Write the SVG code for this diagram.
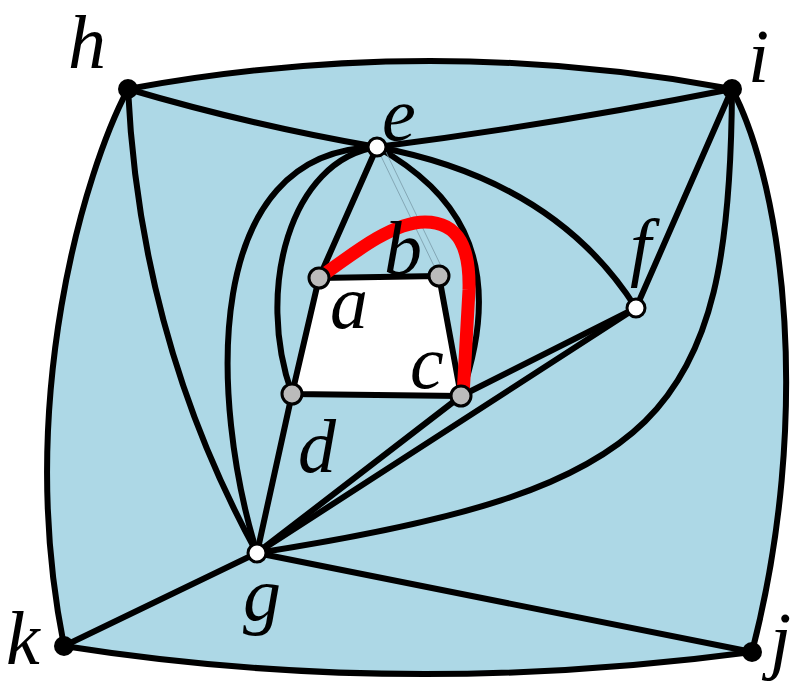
<svg xmlns="http://www.w3.org/2000/svg" width="803" height="688" viewBox="0 0 803 688">
<style>
.e{fill:none;stroke:#000;stroke-width:6;stroke-linecap:round}
.lbl{font-family:"Liberation Serif","DejaVu Serif",serif;font-style:italic;font-size:76px;fill:#000}
.bn{fill:#000}
.wn{fill:#fff;stroke:#000;stroke-width:3}
.gn{fill:#bbb;stroke:#000;stroke-width:3}
</style>
<path id="region" d="M128,89 Q430,33 732,89 C785,190 812,420 752,652 Q400,699 64,646 C15,400 85,170 128,89 Z" fill="#add8e6" stroke="none"/>
<polygon id="hole" points="319,278 439,276 461,396 292,394" fill="#fff"/>
<g id="connectors">
<path class="e" d="M128,89 Q430,33 732,89"/>
<path class="e" d="M732,89 C785,190 812,420 752,652"/>
<path class="e" d="M752,652 Q400,699 64,646"/>
<path class="e" d="M128,89 C85,170 15,400 64,646"/>
<path class="e" d="M128,89 Q250,125 377,147"/>
<path class="e" d="M732,89 Q550,125 377,147"/>
<path class="e" d="M128,89 Q140,340 257,553"/>
<path class="e" d="M64,646 L257,553"/>
<path class="e" d="M257,553 L752,652"/>
<path class="e" d="M732,89 L636,308"/>
<path class="e" d="M732,89 C730,420 660,490 257,553"/>
<path class="e" d="M377,147 Q555,180 636,308"/>
<path class="e" d="M636,308 L257,553"/>
<path class="e" d="M636,308 L461,396"/>
<path class="e" d="M461,396 L257,553"/>
<path class="e" d="M292,394 L257,553"/>
<path class="e" d="M377,147 L319,278"/>
<path class="e" d="M377,147 C200,150 210,400 257,553"/>
<path class="e" d="M377,147 C290,160 255,290 292,394"/>
<path class="e" d="M377,147 C445,185 512,250 461,396"/>
<path class="e" d="M319,278 L439,276 L461,396 L292,394 Z" stroke-linejoin="round"/>
<path d="M379,152 L435,268 M386,152 L442,268" stroke="#7a9aa8" stroke-width="0.8" fill="none"/>
<path d="M319,278 C360,248 395,222 425,222 C460,222 470,250 469,290 L463,396" fill="none" stroke="#f00" stroke-width="13"/>
</g>
<g id="h"><circle class="bn" cx="128" cy="89" r="10"/><text class="lbl" x="68" y="68">h</text></g>
<g id="i"><circle class="bn" cx="732" cy="89" r="10"/><text class="lbl" x="748" y="82">i</text></g>
<g id="k"><circle class="bn" cx="64" cy="646" r="10"/><text class="lbl" x="6" y="664">k</text></g>
<g id="j"><circle class="bn" cx="752" cy="652" r="10"/><text class="lbl" x="770" y="665">j</text></g>
<g id="e"><circle class="wn" cx="377" cy="147" r="9"/><text class="lbl" x="382" y="140">e</text></g>
<g id="f"><circle class="wn" cx="636" cy="308" r="9"/><text class="lbl" x="630" y="272">f</text></g>
<g id="g"><circle class="wn" cx="257" cy="553" r="9"/><text class="lbl" x="243" y="620">g</text></g>
<g id="a"><circle class="gn" cx="319" cy="278" r="10"/><text class="lbl" x="330" y="328">a</text></g>
<g id="b"><circle class="gn" cx="439" cy="276" r="10"/><text class="lbl" x="384" y="274">b</text></g>
<g id="c"><circle class="gn" cx="461" cy="396" r="10"/><text class="lbl" x="410" y="388">c</text></g>
<g id="d"><circle class="gn" cx="292" cy="394" r="10"/><text class="lbl" x="298" y="472">d</text></g>
</svg>
